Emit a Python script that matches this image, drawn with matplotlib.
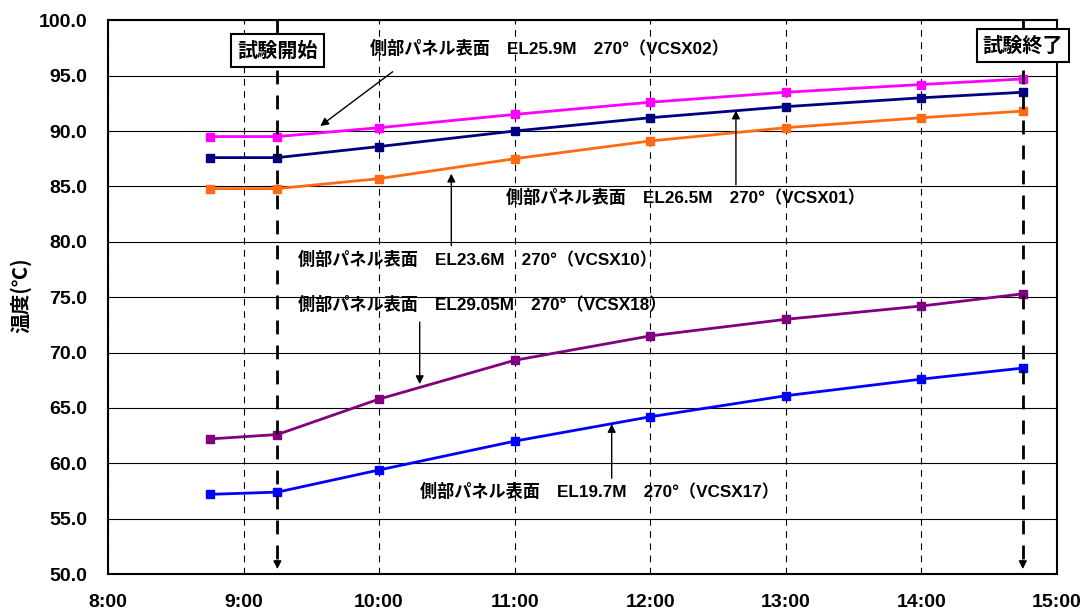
import matplotlib.pyplot as plt
import matplotlib.dates as mdates
from datetime import datetime

plt.rcParams['font.family'] = ['Liberation Sans', 'Noto Sans CJK JP']
plt.rcParams['font.weight'] = 'bold'

times = ["8:45", "9:15", "10:00", "11:00", "12:00", "13:00", "14:00", "14:45"]
vcsx02 = [89.5, 89.5, 90.3, 91.5, 92.6, 93.5, 94.2, 94.7]
vcsx01 = [87.6, 87.6, 88.6, 90.0, 91.2, 92.2, 93.0, 93.5]
vcsx10 = [84.8, 84.8, 85.7, 87.5, 89.1, 90.3, 91.2, 91.8]
vcsx18 = [62.2, 62.6, 65.8, 69.3, 71.5, 73.0, 74.2, 75.3]
vcsx17 = [57.2, 57.4, 59.4, 62.0, 64.2, 66.1, 67.6, 68.6]

start_time = "9:15"
end_time = "14:45"


def t(s):
    return datetime.strptime("2000-01-01 " + s, "%Y-%m-%d %H:%M")


x = [t(s) for s in times]

fig = plt.figure(figsize=(10.83, 6.14), dpi=100)
ax = fig.add_axes([0.0997, 0.065, 0.876, 0.902])

series = [
    (vcsx02, "#FF00FF"),
    (vcsx01, "#000080"),
    (vcsx10, "#FF6A13"),
    (vcsx18, "#800080"),
    (vcsx17, "#0000FF"),
]
for ys, c in series:
    ax.plot(x, ys, color=c, lw=2, marker="s", ms=6, zorder=3)

ax.set_xlim(t("8:00"), t("15:00"))
ax.set_ylim(50, 100)
ax.set_yticks(range(50, 101, 5))
ax.yaxis.set_major_formatter(plt.FuncFormatter(lambda v, p: f"{v:.1f}"))
ax.xaxis.set_major_locator(mdates.HourLocator())
ax.xaxis.set_major_formatter(plt.FuncFormatter(
    lambda v, p: f"{mdates.num2date(v).hour}:00"))
ax.tick_params(axis="y", length=0, labelsize=14, pad=15)
ax.tick_params(axis="x", length=0, labelsize=14, pad=14)
for lab in ax.get_xticklabels() + ax.get_yticklabels():
    lab.set_fontweight("bold")

ax.grid(axis="y", color="black", lw=0.8, ls="-")
ax.grid(axis="x", color="black", lw=0.8, ls=(0, (6, 5)))
for s in ax.spines.values():
    s.set_linewidth(1.5)

# y-axis title
fig.text(0.0194, 0.52, "温度(℃)", rotation=90, ha="center", va="center",
         fontsize=14.5, fontweight="bold", family=['Noto Sans CJK JP'])

# start / end markers: thick dashed lines ending in arrowheads
for tm in (start_time, end_time):
    ax.plot([t(tm), t(tm)], [100, 50.8], color="black", lw=2,
            ls=(0, (5, 4)), zorder=4)
    ax.annotate("", xy=(t(tm), 50.2), xytext=(t(tm), 51.5),
                arrowprops=dict(arrowstyle="-|>", color="black", lw=1,
                                mutation_scale=12), zorder=4)

box = dict(boxstyle="square,pad=0.3", fc="white", ec="black", lw=1.5)
ax.text(t(start_time), 97.3, "試験開始", ha="center", va="center",
        fontsize=14.5, fontweight="bold", family=['Noto Sans CJK JP'],
        bbox=box, zorder=5)
ax.text(t(end_time), 97.7, "試験終了", ha="center", va="center",
        fontsize=14.5, fontweight="bold", family=['Noto Sans CJK JP'],
        bbox=box, zorder=5, clip_on=False)

arrow = dict(arrowstyle="-|>", color="black", lw=1, mutation_scale=12)
labels = [
    ("側部パネル表面　EL25.9M　270°（VCSX02）", ("9:56", 97.5), ("10:07", 95.5), ("9:33", 90.3)),
    ("側部パネル表面　EL26.5M　270°（VCSX01）", ("10:56", 84.0), ("12:38", 84.9), ("12:38", 92.1)),
    ("側部パネル表面　EL23.6M　270°（VCSX10）", ("9:24", 78.4), ("10:32", 79.4), ("10:32", 86.4)),
    ("側部パネル表面　EL29.05M　270°（VCSX18）", ("9:24", 74.3), ("10:18", 73.0), ("10:18", 66.9)),
    ("側部パネル表面　EL19.7M　270°（VCSX17）", ("10:18", 57.5), ("11:43", 58.4), ("11:43", 63.8)),
]
for txt, (tx, ty), (ax0, ay0), (ax1, ay1) in labels:
    ax.text(t(tx), ty, txt, ha="left", va="center", fontsize=12.3,
            fontweight="bold", zorder=5)
    ax.annotate("", xy=(t(ax1), ay1), xytext=(t(ax0), ay0),
                arrowprops=arrow, zorder=5)

fig.savefig("out.png", dpi=100)
